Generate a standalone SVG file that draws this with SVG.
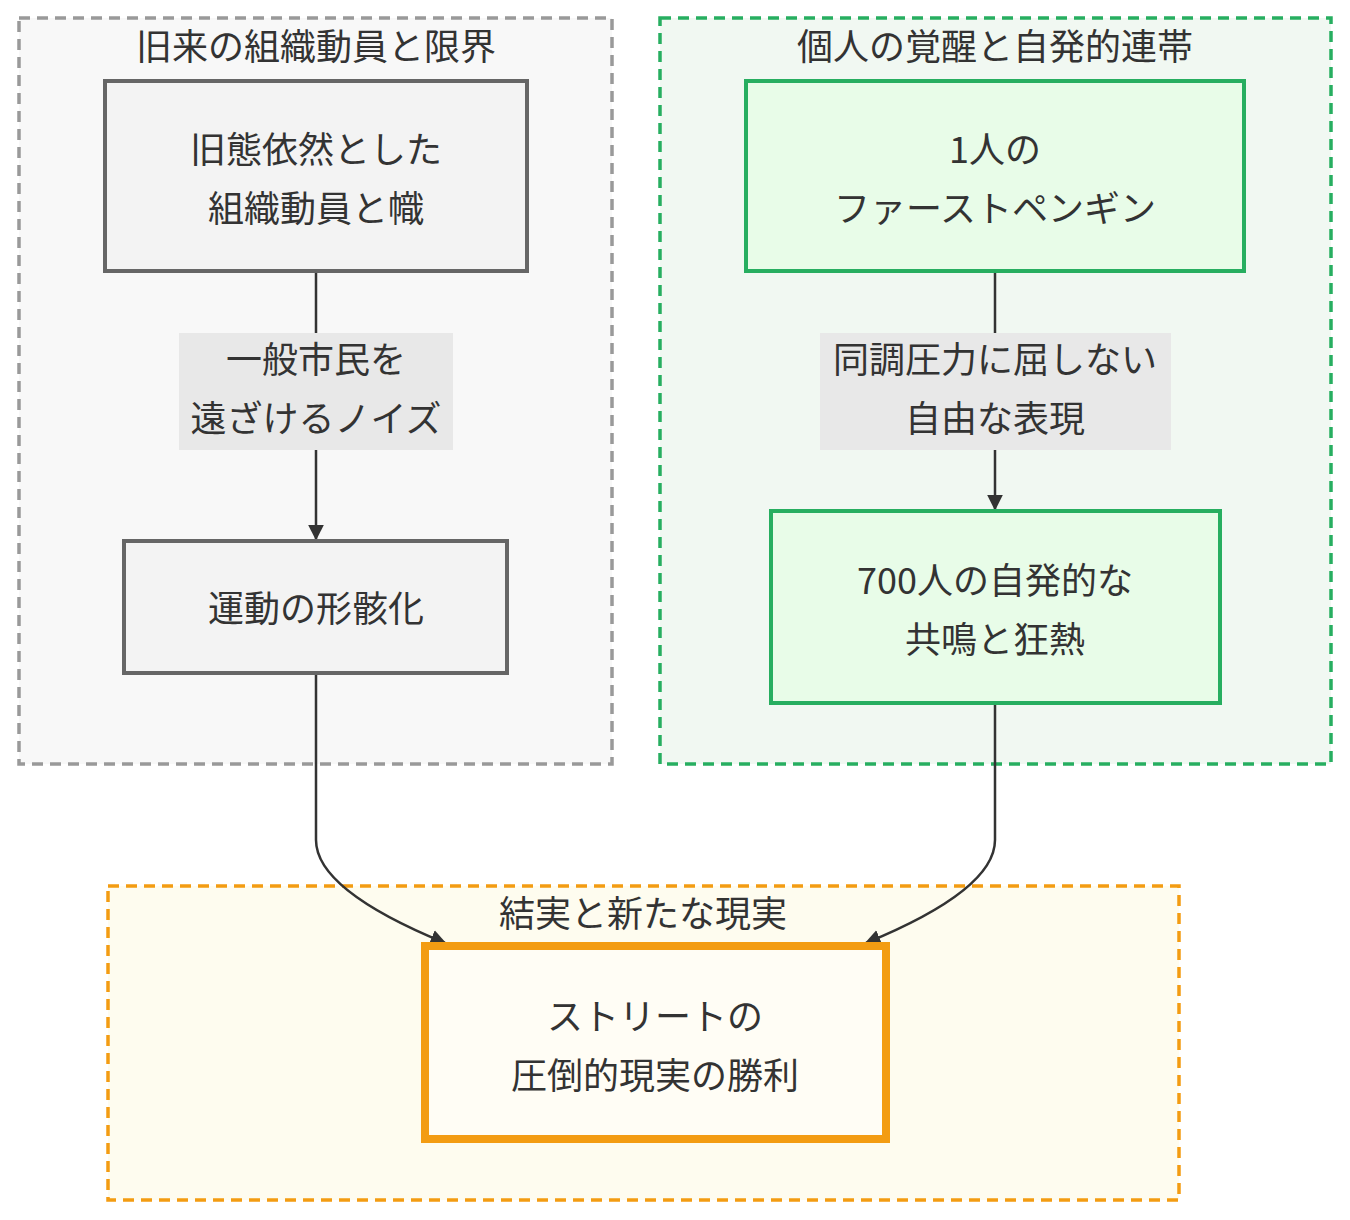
<svg xmlns="http://www.w3.org/2000/svg" width="1350" height="1220" viewBox="0 0 1350 1220">
<defs>
<style>
text{font-family:"Noto Sans CJK JP","Noto Sans",sans-serif;font-size:36px;fill:#333;text-anchor:middle}
.e{fill:none;stroke:#333;stroke-width:2.5}
</style>
<marker id="ah" viewBox="0 0 10 10" refX="9" refY="5" markerWidth="7" markerHeight="7" orient="auto" markerUnits="userSpaceOnUse"><path d="M0,0L10,5L0,10z" fill="#333"/></marker>
<marker id="a" viewBox="0 0 10 10" refX="9" refY="5" markerWidth="16" markerHeight="16" orient="auto" markerUnits="userSpaceOnUse"><path d="M0,0L10,5L0,10z" fill="#333"/></marker>
</defs>
<rect width="1350" height="1220" fill="#fff"/>
<g id="c1"><rect x="19" y="18" width="593" height="746" fill="#f8f8f8" stroke="#999" stroke-width="3.5" stroke-dasharray="11,7"/><text x="316" y="60">旧来の組織動員と限界</text></g>
<g id="c2"><rect x="660" y="18" width="671" height="746" fill="#f1f8f2" stroke="#27ae60" stroke-width="3.5" stroke-dasharray="11,7"/><text x="995" y="60">個人の覚醒と自発的連帯</text></g>
<g id="c3"><rect x="108" y="886" width="1071" height="314" fill="#fefcef" stroke="#f39c12" stroke-width="3.5" stroke-dasharray="11,7"/><text x="643" y="927">結実と新たな現実</text></g>
<g id="edges">
<path class="e" d="M316,271V539" marker-end="url(#a)"/>
<path class="e" d="M995,271V509" marker-end="url(#a)"/>
<path class="e" d="M316,673V840Q316,890 445,943" marker-end="url(#a)"/>
<path class="e" d="M995,703V840Q995,890 866,943" marker-end="url(#a)"/>
<rect x="179" y="333" width="274" height="117" fill="#e8e8e8"/>
<text x="316" y="373">一般市民を</text><text x="316" y="432">遠ざけるノイズ</text>
<rect x="820" y="333" width="351" height="117" fill="#e8e8e8"/>
<text x="995" y="373">同調圧力に屈しない</text><text x="995" y="432">自由な表現</text>
</g>
<g id="A"><rect x="105" y="81" width="422" height="190" fill="#f3f3f3" stroke="#666" stroke-width="4"/><text x="316" y="163">旧態依然とした</text><text x="316" y="222">組織動員と幟</text></g>
<g id="B"><rect x="124" y="541" width="383" height="132" fill="#f3f3f3" stroke="#666" stroke-width="4"/><text x="316" y="622">運動の形骸化</text></g>
<g id="C"><rect x="746" y="81" width="498" height="190" fill="#e8fce8" stroke="#27ae60" stroke-width="4"/><text x="995" y="163">1人の</text><text x="995" y="222">ファーストペンギン</text></g>
<g id="D"><rect x="771" y="511" width="449" height="192" fill="#e8fce8" stroke="#27ae60" stroke-width="4"/><text x="995" y="594">700人の自発的な</text><text x="995" y="653">共鳴と狂熱</text></g>
<g id="E"><rect x="425" y="946" width="461" height="193" fill="#fffdf5" stroke="#f39c12" stroke-width="8"/><text x="655" y="1030">ストリートの</text><text x="655" y="1089">圧倒的現実の勝利</text></g>
</svg>
